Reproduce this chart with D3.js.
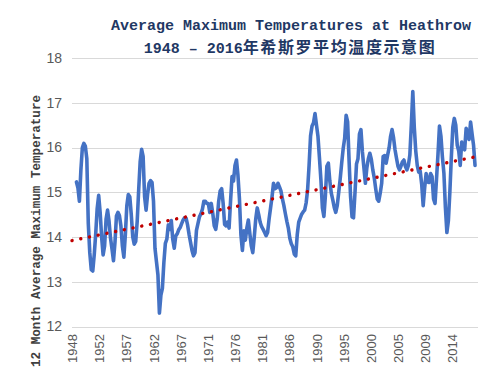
<!DOCTYPE html>
<html>
<head>
  <meta charset="utf-8">
  <script src="https://d3js.org/d3.v7.min.js"></script>
  <style>
    body {
      margin: 0;
      background: #fff;
    }

    .grid line {
      stroke: #d9d9d9;
      stroke-width: 1px;
      shape-rendering: crispEdges;
    }

    .grid path {
      display: none;
    }

    .tick text {
      fill: #595959;
      font-family: "Liberation Sans", Arial, sans-serif;
    }

    .title {
      fill: #1f3864;
      font-family: "Liberation Mono", "Noto Sans CJK SC", monospace;
      font-weight: bold;
      font-size: 15px;
    }

    .cjk {
      font-family: "Noto Sans CJK SC", sans-serif;
      font-size: 16px;
      letter-spacing: 1.6px;
    }

    .y-label {
      fill: #404040;
      font-family: "Liberation Mono", monospace;
      font-weight: bold;
      font-size: 12.6px;
    }
  </style>
</head>

<body>
  <svg id="chart" width="493" height="387"></svg>

  <script>
    // 12 month rolling average of daily max temp, one value per quarter
    // first value is Oct 1948 (months counted from Jan 1948)
    var firstMonth = 9,
      stepMonths = 3,
      axisMonths = 823; // Jan 1948 .. Jul 2016

    var tmax12 = [
      15.23, 15.1, 14.8, 15.5, 16.0, 16.09, 16.03, 15.75, 14.3, 13.65,
      13.27, 13.24, 13.6, 14.07, 14.64, 14.93, 14.55, 14.0, 13.6, 13.8,
      14.4, 14.6, 14.35, 13.97, 13.73, 13.47, 13.88, 14.47, 14.55, 14.48,
      14.25, 13.8, 13.55, 14.05, 14.7, 14.95, 14.9, 14.5, 14.0, 13.84,
      13.9, 14.35, 15.05, 15.68, 15.96, 15.8, 14.9, 14.6, 14.95, 15.2,
      15.26, 15.22, 14.8, 13.75, 13.45, 13.15, 12.3, 12.7, 12.85, 13.43,
      13.86, 13.95, 14.27, 14.17, 14.37, 13.95, 13.75, 14.02, 14.07, 14.16,
      14.21, 14.3, 14.38, 14.43, 14.42, 14.27, 14.06, 13.88, 13.7, 13.58,
      13.65, 14.15, 14.3, 14.45, 14.52, 14.62, 14.8, 14.8, 14.75, 14.75,
      14.55, 14.75, 14.53, 14.25, 14.17, 14.4, 14.8, 15.03, 15.08, 14.75,
      14.28, 14.25, 14.33, 14.2, 14.8, 15.35, 15.25, 15.6, 15.72, 15.38,
      14.85, 14.05, 13.7, 14.14, 13.93, 14.2, 14.38, 14.08, 13.8, 13.65,
      14.0, 14.4, 14.65, 14.5, 14.33, 14.23, 14.17, 14.1, 14.03, 14.1,
      14.4, 14.65, 14.9, 15.2, 15.08, 15.1, 15.2, 15.12, 15.03, 14.85,
      14.7, 14.52, 14.35, 14.2, 13.97, 13.85, 13.78, 13.62, 13.58, 14.05,
      14.33, 14.42, 14.51, 14.56, 14.6, 14.76, 15.05, 15.6, 16.26, 16.48,
      16.55, 16.76, 16.5, 16.25, 15.77, 15.27, 14.65, 14.46, 14.92, 15.58,
      15.65, 15.25, 14.98, 14.83, 14.66, 14.55, 14.7, 15.0, 15.3, 15.65,
      15.97, 16.2, 16.72, 16.58, 15.7, 14.9, 14.45, 14.43, 15.0, 15.63,
      15.75, 16.3, 16.4, 15.9, 15.55, 15.2, 15.55, 15.75, 15.87, 15.74,
      15.5, 15.32, 15.07, 14.85, 14.8, 14.98, 15.2, 15.8, 15.82, 15.65,
      15.83, 15.99, 16.25, 16.4, 16.22, 15.95, 15.76, 15.58, 15.5, 15.58,
      15.68, 15.72, 15.58, 15.5, 15.6, 15.83, 16.5, 17.25, 16.45, 15.92,
      15.6, 15.45, 15.47, 15.18, 14.7, 15.1, 15.42, 15.23, 15.22, 15.42,
      15.35, 14.85, 14.75, 15.3, 15.85, 16.48, 16.25, 15.78, 15.42, 14.66,
      14.1, 14.36, 15.0, 15.78, 16.45, 16.65, 16.5, 16.05, 15.92, 15.6,
      16.12, 16.0, 15.95, 16.43, 16.3, 16.18, 16.57, 16.3, 16.05, 15.6
    ];

    // linear trend, value at the first category and at the last data point
    var trendEnds = [13.92, 15.79];

    var yTicks = [12, 13, 14, 15, 16, 17, 18];
    var xLabels = ["1948", "1952", "1957", "1962", "1967", "1971", "1976", "1981",
      "1986", "1990", "1995", "2000", "2005", "2009", "2014"];
    var labelEvery = 55; // months between category labels

    var titleLine1 = "Average Maximum Temperatures at Heathrow",
      titleYears = "1948 \u2013 2016",
      titleCjk = "年希斯罗平均温度示意图",
      yTitle = "12 Month Average Maximum Temperature";

    var svg = d3.select("#chart"),
      margin = { top: 58, right: 15, bottom: 60.5, left: 72 },
      width = 493 - margin.left - margin.right,
      height = 387 - margin.top - margin.bottom;

    svg.append("rect").attr("width", 493).attr("height", 387).attr("fill", "#fff");

    var x = d3.scaleLinear()
      .domain([0, axisMonths - 1])
      .range([margin.left, margin.left + width]);

    var y = d3.scaleLinear()
      .domain([12, 18])
      .range([margin.top + height, margin.top]);

    // gridlines + y labels
    svg.append("g")
      .attr("class", "grid")
      .attr("transform", "translate(" + margin.left + ",0)")
      .call(d3.axisLeft(y).tickValues(yTicks).tickFormat(d3.format("d"))
        .tickSize(-width).tickPadding(10))
      .selectAll("text")
      .attr("font-size", 14);

    // x labels
    var xAxis = svg.append("g")
      .attr("class", "grid")
      .attr("transform", "translate(0," + (margin.top + height) + ")")
      .call(d3.axisBottom(x)
        .tickValues(xLabels.map((d, i) => i * labelEvery))
        .tickFormat((d, i) => xLabels[i])
        .tickSize(0));

    xAxis.selectAll("text")
      .attr("font-size", 13)
      .attr("transform", "rotate(-90)")
      .attr("text-anchor", "end")
      .attr("x", -7.5)
      .attr("y", 0)
      .attr("dy", "0.35em");

    var line = d3.line()
      .x((d, i) => x(firstMonth + i * stepMonths))
      .y(d => y(d));

    svg.append("path")
      .datum(tmax12)
      .attr("fill", "none")
      .attr("stroke", "#4472c4")
      .attr("stroke-width", 3.6)
      .attr("stroke-linejoin", "round")
      .attr("stroke-linecap", "round")
      .attr("d", line);

    var lastMonth = firstMonth + (tmax12.length - 1) * stepMonths;

    svg.append("line")
      .attr("x1", x(0))
      .attr("y1", y(trendEnds[0]))
      .attr("x2", x(lastMonth))
      .attr("y2", y(trendEnds[1]))
      .attr("stroke", "#c00000")
      .attr("stroke-width", 3.4)
      .attr("stroke-linecap", "round")
      .attr("stroke-dasharray", "0.1 8.8");

    // title
    svg.append("text")
      .attr("class", "title")
      .attr("x", 291)
      .attr("y", 30)
      .attr("text-anchor", "middle")
      .text(titleLine1);

    var t2 = svg.append("text")
      .attr("class", "title")
      .attr("x", 290)
      .attr("y", 53)
      .attr("text-anchor", "middle");
    t2.append("tspan").text(titleYears);
    t2.append("tspan").attr("class", "cjk").text(titleCjk);

    // y axis title
    svg.append("text")
      .attr("class", "y-label")
      .attr("transform", "translate(40,231) rotate(-90)")
      .attr("text-anchor", "middle")
      .text(yTitle);
  </script>
</body>
</html>
